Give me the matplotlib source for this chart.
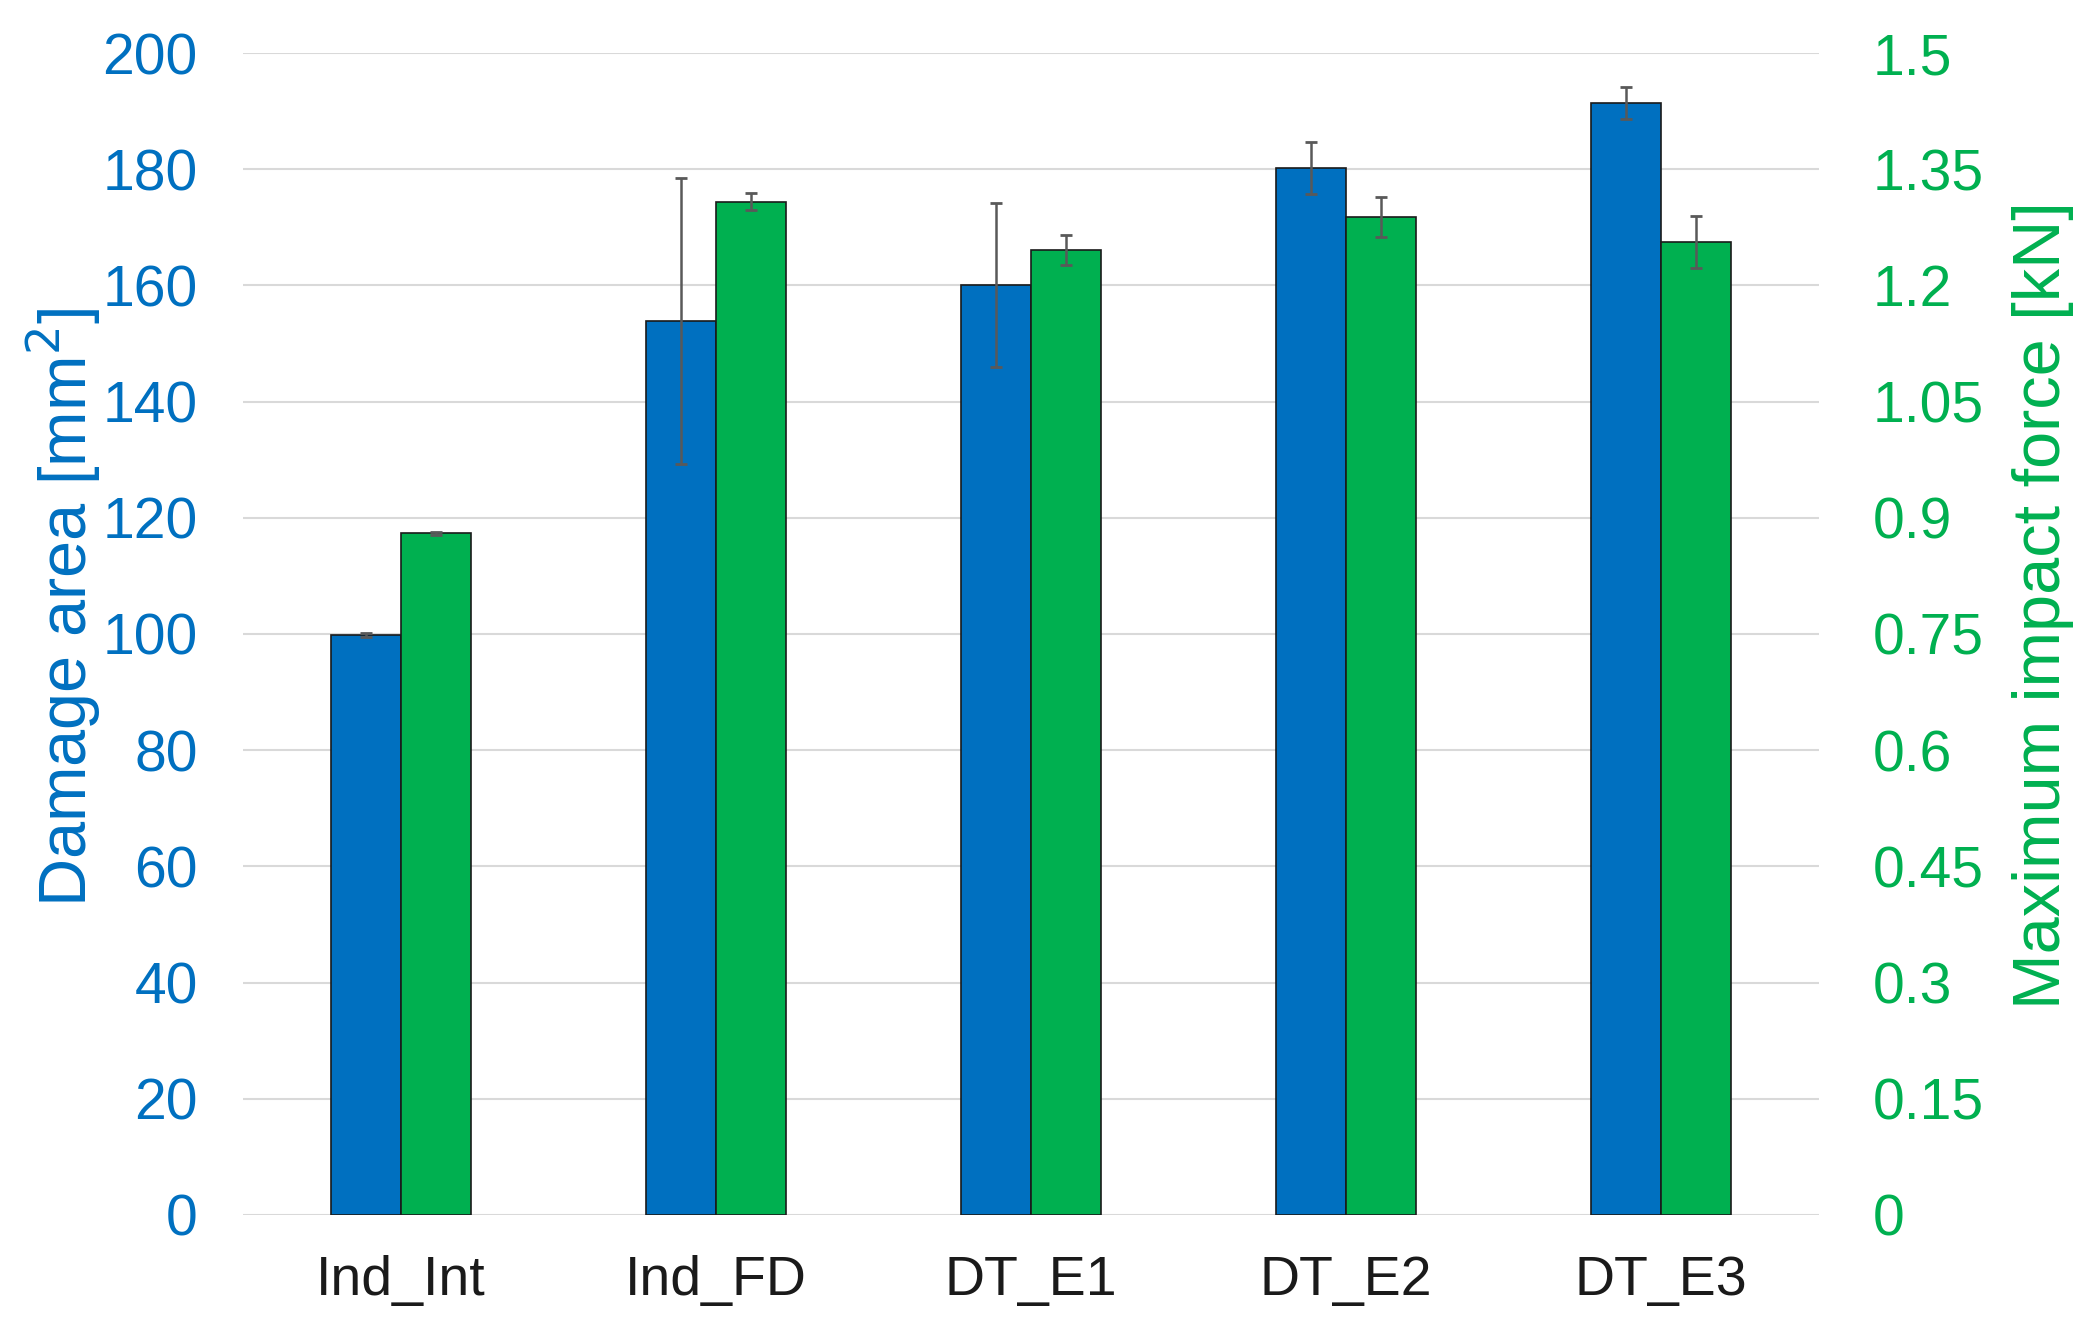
import numpy as np
import matplotlib
matplotlib.use('Agg')
import matplotlib.pyplot as plt
from matplotlib.ticker import FuncFormatter

plt.rcParams['font.family'] = ['Liberation Sans', 'DejaVu Sans']

categories = ['Ind_Int', 'Ind_FD', 'DT_E1', 'DT_E2', 'DT_E3']
damage_area = [99.8, 153.9, 160.1, 180.2, 191.4]      # mm^2
damage_err = [0.3, 24.6, 14.1, 4.5, 2.8]
impact_force = [0.880, 1.308, 1.246, 1.288, 1.256]    # kN
force_err = [0.002, 0.011, 0.019, 0.026, 0.034]

blue = '#0070C0'
green = '#00B050'
err_col = '#595959'

fig = plt.figure(figsize=(20.97, 13.36), dpi=100)
ax = fig.add_axes([0.1161, 0.0906, 0.7511, 0.8697])
ax2 = ax.twinx()

x = np.arange(len(categories))
w = 0.222

ax.bar(x - w / 2, damage_area, w, color=blue, edgecolor='#1a1a1a', linewidth=1.2, zorder=3)
ax.errorbar(x - w / 2, damage_area, yerr=damage_err, fmt='none', ecolor=err_col,
            elinewidth=1.8, capsize=4, capthick=2, zorder=4)
ax2.bar(x + w / 2, impact_force, w, color=green, edgecolor='#1a1a1a', linewidth=1.2, zorder=3)
ax2.errorbar(x + w / 2, impact_force, yerr=force_err, fmt='none', ecolor=err_col,
             elinewidth=1.8, capsize=4, capthick=2, zorder=4)

ax.set_xlim(-0.5, len(categories) - 0.5)
ax.set_ylim(0, 200)
ax2.set_ylim(0, 1.5)
ax.set_yticks(np.arange(0, 201, 20))
ax2.set_yticks(np.linspace(0, 1.5, 11))
ax2.yaxis.set_major_formatter(FuncFormatter(lambda v, p: '%g' % round(v, 2)))

ax.yaxis.grid(True, color='#D9D9D9', linewidth=1.5, zorder=0)
ax.set_axisbelow(True)
for a in (ax, ax2):
    for s in a.spines.values():
        s.set_visible(False)

ax.set_xticks(x)
ax.set_xticklabels(categories)
ax.tick_params(axis='x', length=0, pad=29, labelsize=40, labelcolor='#1a1a1a')
ax.tick_params(axis='y', length=0, pad=33, labelsize=41, labelcolor=blue)
ax2.tick_params(axis='y', length=0, pad=39, labelsize=41, labelcolor=green)

ax.text(-0.1146, 0.523, 'Damage area [mm$^2$]', transform=ax.transAxes, rotation=90,
        ha='center', va='center', fontsize=48, color=blue)
ax.text(1.1425, 0.525, 'Maximum impact force [kN]', transform=ax.transAxes, rotation=90,
        ha='center', va='center', fontsize=48, color=green)

fig.savefig('out.png', dpi=100, facecolor='white')
